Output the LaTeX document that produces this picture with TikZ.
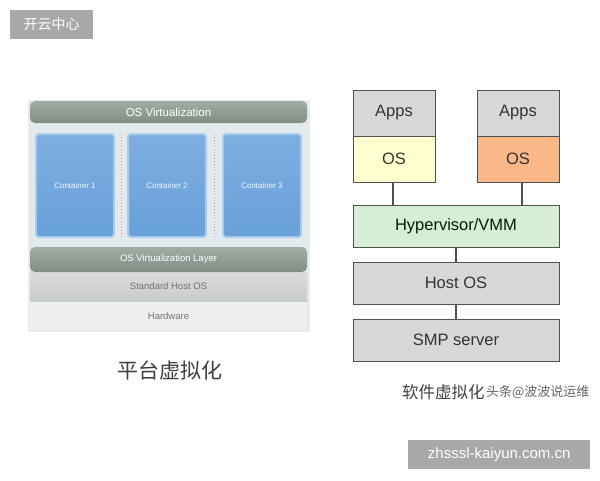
\documentclass[tikz,border=0pt]{standalone}
\usepackage{fontspec}
\setmainfont{Liberation Sans}
\newfontfamily\cjk{Noto Sans CJK SC}
\usepackage{tikz}
\usetikzlibrary{
  positioning,
  calc
}
\definecolor{barbase}{RGB}{128, 142, 132}
\definecolor{bartop}{RGB}{160, 172, 164}
\definecolor{areabg}{RGB}{226, 234, 238}
\definecolor{cntblue}{RGB}{104, 160, 218}
\definecolor{cntedge}{RGB}{168, 204, 236}
\definecolor{hostgray}{RGB}{200, 204, 202}
\definecolor{hwgray}{RGB}{238, 240, 240}
\definecolor{boxgray}{RGB}{216, 216, 216}
\definecolor{osyellow}{RGB}{255, 255, 208}
\definecolor{osorange}{RGB}{250, 184, 136}
\definecolor{hypgreen}{RGB}{214, 238, 214}
\definecolor{edgegray}{RGB}{80, 80, 80}
\definecolor{markgray}{RGB}{168, 168, 168}
\tikzset{
  darkbar/.style = {
    rectangle, rounded corners=5pt, outer sep=0pt,
    top color=bartop, bottom color=barbase, draw=none,
    minimum width=277pt, minimum height=#1, anchor=north west,
    text=white, font=\fontsize{9.5}{12}\selectfont
  },
  darkbar/.default = 22pt,
  flatbar/.style = {
    rectangle, outer sep=0pt, draw=none, fill=#1,
    minimum width=277pt, minimum height=29pt, anchor=north west,
    text=black!55, font=\fontsize{9.5}{11}\selectfont
  },
  container/.style = {
    rectangle, rounded corners=3pt, outer sep=0pt,
    draw=cntedge, line width=2pt, top color=cntblue!85,
    bottom color=cntblue, minimum width=78pt, minimum height=103pt,
    anchor=north west, text=white!92!cntblue,
    font=\fontsize{8}{10}\selectfont
  },
  sep/.style = {draw=red!45, line width=1pt, dotted},
  stackbox/.style = {
    rectangle, draw=edgegray, line width=1pt, fill=#1, outer sep=0pt,
    minimum width=82pt, minimum height=46pt,
    text=black!80, font=\fontsize{16.5}{18}\selectfont
  },
  stackbox/.default = boxgray,
  widebox/.style = {
    stackbox=#1, minimum width=206pt, minimum height=42pt
  },
  widebox/.default = boxgray,
  link/.style = {draw=edgegray, line width=2pt},
  caption/.style = {text=black!75, font=\cjk\fontsize{#1}{#1}\selectfont},
  watermark/.style = {
    rectangle, fill=markgray, text=white, inner xsep=8pt,
    minimum height=29pt, font=#1
  }
}

\begin{document}
\begin{tikzpicture}[x=1pt, y=-1pt]

  \useasboundingbox[fill=white] (0,0) rectangle (600,480);

  % platform virtualization
  \node[rectangle, draw=black!8, fill=areabg, minimum width=281pt,
        minimum height=231pt, anchor=north west] (frame) at (28,100) {};
  \node[flatbar=hwgray, minimum height=28pt] (hw) at (30,302) {Hardware};
  \node[flatbar=hostgray, top color=hostgray!70, bottom color=hostgray]
       (host) at (30,272) {Standard Host OS};
  \node[darkbar=25pt] (layer) at (30,247) {OS Virtualization Layer};
  \node[darkbar, font=\fontsize{11.5}{13}\selectfont] (osv) at (30,101)
       {OS Virtualization};

  \foreach \i/\x in {1/36, 2/128, 3/223}
    \node[container] (cnt\i) at (\x,134) {Container \i};

  \draw[sep] ($(cnt1.north east)!0.5!(cnt2.north west)$)
          -- ($(cnt1.south east)!0.5!(cnt2.south west)$);
  \draw[sep] ($(cnt2.north east)!0.5!(cnt3.north west)$)
          -- ($(cnt2.south east)!0.5!(cnt3.south west)$);

  \node[caption=21pt] (capa) at (170,370) {平台虚拟化};

  % software virtualization
  \node[stackbox, anchor=north west] (apps1) at (353,90) {Apps};
  \node[stackbox=osyellow, below=0pt of apps1] (os1) {OS};
  \node[stackbox, anchor=north west] (apps2) at (477,90) {Apps};
  \node[stackbox=osorange, below=0pt of apps2] (os2) {OS};
  \node[widebox=hypgreen, anchor=north west, text=black!70!green!40!black]
       (hyp) at (353,205) {Hypervisor/VMM};
  \node[widebox, below=15pt of hyp] (hostos) {Host OS};
  \node[widebox, below=15pt of hostos] (smp) {SMP server};

  \draw[link] (os1.south -| 393,0) -- (hyp.north -| 393,0);
  \draw[link] (os2.south -| 522,0) -- (hyp.north -| 522,0);
  \draw[link] (hyp) -- (hostos);
  \draw[link] (hostos) -- (smp);

  \node[caption=16.5pt, anchor=west, inner xsep=0pt] (capb) at (402,392)
       {软件虚拟化};
  \node[caption=13pt, anchor=west, inner xsep=0pt, text=black!60,
        right=1pt of capb] (tag) {头条@波波说运维};

  % watermarks
  \node[watermark=\cjk\fontsize{14}{16}\selectfont, anchor=north west,
        minimum width=83pt] (mark1) at (10,10) {开云中心};
  \node[watermark=\fontsize{15}{17}\selectfont, anchor=north west,
        minimum width=182pt] (mark2) at (408,440) {zhsssl-kaiyun.com.cn};

\end{tikzpicture}
\end{document}
